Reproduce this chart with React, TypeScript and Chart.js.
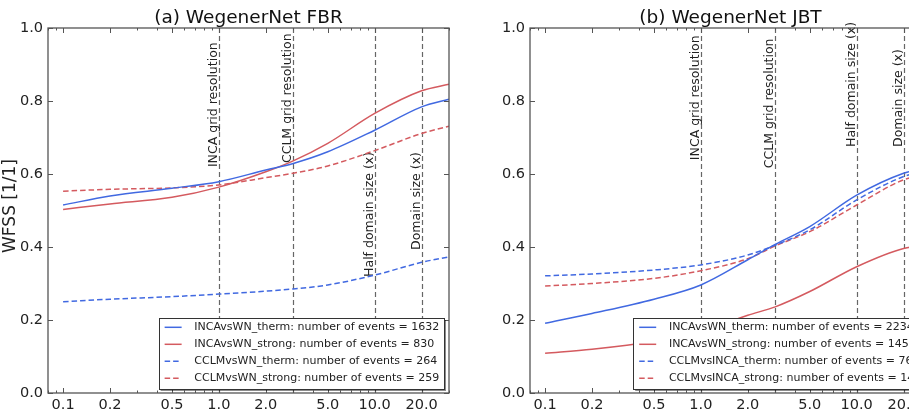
import React, { useEffect, useRef } from "react";
import { Chart, registerables } from "chart.js";

Chart.register(...registerables);

// Spatial scale (x) at which each skill score was evaluated
const distances = [0.1, 0.2, 0.5, 1, 2, 3, 5, 10, 20, 30];

// Axis ticks
const xTickValues = [0.1, 0.2, 0.5, 1, 2, 5, 10, 20];
const xTickLabels = ["0.1", "0.2", "0.5", "1.0", "2.0", "5.0", "10.0", "20.0"];
const yTickValues = [0, 0.2, 0.4, 0.6, 0.8, 1.0];

// Reference scales marked with dashed vertical lines
const refDistances = [1, 3, 10, 20];
const refLabels = [
  "INCA grid resolution",
  "CCLM grid resolution",
  "Half domain size (x)",
  "Domain size (x)",
];

// (a) WegenerNet FBR
const fbrIncaTherm = [0.515, 0.54, 0.561, 0.579, 0.611, 0.629, 0.661, 0.72, 0.784, 0.805];
const fbrIncaStrong = [0.503, 0.518, 0.536, 0.564, 0.606, 0.636, 0.684, 0.766, 0.828, 0.846];
const fbrCclmTherm = [0.25, 0.257, 0.264, 0.271, 0.279, 0.285, 0.296, 0.323, 0.358, 0.373];
const fbrCclmStrong = [0.553, 0.558, 0.562, 0.57, 0.59, 0.602, 0.622, 0.664, 0.711, 0.731];
const fbrLegend = [
  "INCAvsWN_therm: number of events = 1632",
  "INCAvsWN_strong: number of events = 830",
  "CCLMvsWN_therm: number of events = 264",
  "CCLMvsWN_strong: number of events = 259",
];
const fbrRefLabelBase = [0.619, 0.63, 0.318, 0.392];

// (b) WegenerNet JBT
const jbtIncaTherm = [0.191, 0.218, 0.257, 0.296, 0.365, 0.407, 0.456, 0.542, 0.602, 0.62];
const jbtIncaStrong = [0.109, 0.12, 0.142, 0.168, 0.213, 0.236, 0.278, 0.346, 0.396, 0.405];
const jbtCclmTherm = [0.321, 0.326, 0.337, 0.351, 0.378, 0.405, 0.447, 0.529, 0.593, 0.612];
const jbtCclmStrong = [0.293, 0.3, 0.314, 0.335, 0.368, 0.403, 0.442, 0.515, 0.584, 0.6];
const jbtLegend = [
  "INCAvsWN_therm: number of events = 2234",
  "INCAvsWN_strong: number of events = 1453",
  "CCLMvsINCA_therm: number of events = 76",
  "CCLMvsINCA_strong: number of events = 142",
];
const jbtRefLabelBase = [0.638, 0.616, 0.674, 0.674];

const BLUE = "#4169e1";
const RED = "#d45a5f";
const FONT = '"DejaVu Sans", sans-serif';
const DASH = [5.5, 3];

type PanelProps = {
  left: number;
  title: string;
  series: number[][];
  legend: string[];
  refLabelBase: number[];
  yTitle?: string;
};

const seriesStyles = [
  { color: BLUE, dash: [] as number[] },
  { color: RED, dash: [] as number[] },
  { color: BLUE, dash: DASH },
  { color: RED, dash: DASH },
];

function makeDecor(p: PanelProps) {
  return {
    id: "panelDecor",
    beforeDatasetsDraw(chart: any) {
      const { ctx, chartArea: a, scales } = chart;
      const x = scales.x;
      const y = scales.y;
      ctx.save();
      ctx.strokeStyle = "#666";
      ctx.lineWidth = 1.2;
      ctx.setLineDash([5, 3]);
      refDistances.forEach((d) => {
        const px = Math.round(x.getPixelForValue(d)) + 0.5;
        ctx.beginPath();
        ctx.moveTo(px, a.top);
        ctx.lineTo(px, a.bottom);
        ctx.stroke();
      });
      ctx.setLineDash([]);
      ctx.fillStyle = "#222";
      ctx.font = `12.5px ${FONT}`;
      ctx.textAlign = "left";
      ctx.textBaseline = "alphabetic";
      refDistances.forEach((d, i) => {
        const px = x.getPixelForValue(d) - 2;
        const py = y.getPixelForValue(p.refLabelBase[i]);
        ctx.save();
        ctx.translate(px, py);
        ctx.rotate(-Math.PI / 2);
        ctx.fillText(refLabels[i], 0, 0);
        ctx.restore();
      });
      ctx.restore();
    },
    afterDatasetsDraw(chart: any) {
      const { ctx, chartArea: a, scales } = chart;
      const x = scales.x;
      const y = scales.y;
      ctx.save();
      // inward ticks on all four sides
      ctx.strokeStyle = "#555";
      ctx.lineWidth = 1;
      const minors: number[] = [];
      [0.01, 0.1, 1, 10].forEach((dec) => {
        for (let k = 1; k <= 9; k++) {
          const v = k * dec;
          if (v >= x.min && v <= x.max) minors.push(v);
        }
      });
      const vtick = (v: number, len: number) => {
        const px = Math.round(x.getPixelForValue(v)) + 0.5;
        ctx.beginPath();
        ctx.moveTo(px, a.bottom);
        ctx.lineTo(px, a.bottom - len);
        ctx.moveTo(px, a.top);
        ctx.lineTo(px, a.top + len);
        ctx.stroke();
      };
      minors.forEach((v) => vtick(v, 2.5));
      xTickValues.forEach((v) => vtick(v, 5));
      yTickValues.forEach((v) => {
        const py = Math.round(y.getPixelForValue(v)) + 0.5;
        ctx.beginPath();
        ctx.moveTo(a.left, py);
        ctx.lineTo(a.left + 5, py);
        ctx.moveTo(a.right, py);
        ctx.lineTo(a.right - 5, py);
        ctx.stroke();
      });
      // frame
      ctx.strokeStyle = "#555";
      ctx.lineWidth = 1.3;
      ctx.strokeRect(a.left, a.top, a.right - a.left, a.bottom - a.top);

      // legend, lower right
      ctx.font = `11px ${FONT}`;
      const textW = Math.max(...p.legend.map((t) => ctx.measureText(t).width));
      const boxW = 6 + 17 + 12.7 + textW + 4.7;
      const boxH = 71;
      const bx = a.right - 5 - boxW;
      const by = a.bottom - 4 - boxH;
      ctx.fillStyle = "rgba(0,0,0,0.45)";
      ctx.fillRect(bx + 2, by + 2, boxW, boxH);
      ctx.fillStyle = "#fff";
      ctx.fillRect(bx, by, boxW, boxH);
      ctx.strokeStyle = "#333";
      ctx.lineWidth = 1;
      ctx.strokeRect(Math.round(bx) + 0.5, Math.round(by) + 0.5, Math.round(boxW), boxH);
      p.legend.forEach((t, i) => {
        const ry = by + 9.3 + i * 17;
        const st = seriesStyles[i];
        ctx.strokeStyle = st.color;
        ctx.lineWidth = 1.5;
        ctx.setLineDash(st.dash);
        ctx.beginPath();
        ctx.moveTo(bx + 6, ry);
        ctx.lineTo(bx + 23, ry);
        ctx.stroke();
        ctx.setLineDash([]);
        ctx.fillStyle = "#222";
        ctx.textAlign = "left";
        ctx.textBaseline = "middle";
        ctx.fillText(t, bx + 6 + 17 + 12.7, ry);
      });
      ctx.restore();
    },
    afterDraw(chart: any) {
      const { ctx, chartArea: a } = chart;
      ctx.save();
      ctx.fillStyle = "#111";
      ctx.font = `18.5px ${FONT}`;
      ctx.textAlign = "center";
      ctx.textBaseline = "alphabetic";
      ctx.fillText(p.title, (a.left + a.right) / 2, 23);
      if (p.yTitle) {
        ctx.fillStyle = "#222";
        ctx.font = `17px ${FONT}`;
        ctx.translate(11, 206);
        ctx.rotate(-Math.PI / 2);
        ctx.textBaseline = "middle";
        ctx.fillText(p.yTitle, 0, 0);
      }
      ctx.restore();
    },
  };
}

function Panel(p: PanelProps) {
  const ref = useRef<HTMLCanvasElement | null>(null);
  useEffect(() => {
    if (!ref.current) return;
    const chart = new Chart(ref.current, {
      type: "line",
      data: {
        datasets: p.series.map((vals, i) => ({
          data: distances.map((d, j) => ({ x: d, y: vals[j] })),
          borderColor: seriesStyles[i].color,
          borderDash: seriesStyles[i].dash,
          borderWidth: 1.5,
          pointRadius: 0,
          fill: false,
          cubicInterpolationMode: "monotone" as const,
        })),
      },
      options: {
        animation: false,
        responsive: false,
        maintainAspectRatio: false,
        events: [],
        layout: { padding: { top: 28, right: 21, left: 0, bottom: 0 } },
        scales: {
          x: {
            type: "logarithmic",
            min: 0.08,
            max: 30,
            grid: { display: false, drawTicks: false },
            border: { display: false },
            afterBuildTicks: (s: any) => {
              s.ticks = xTickValues.map((v) => ({ value: v }));
            },
            afterFit: (s: any) => {
              s.height = 26;
            },
            ticks: {
              autoSkip: false,
              maxRotation: 0,
              minRotation: 0,
              padding: 4,
              color: "#222",
              font: { family: FONT, size: 14.5 },
              callback: (v: any) => {
                const idx = xTickValues.findIndex((t) => Math.abs(t - Number(v)) < 1e-9);
                return idx >= 0 ? xTickLabels[idx] : "";
              },
            },
          },
          y: {
            type: "linear",
            min: 0,
            max: 1,
            grid: { display: false, drawTicks: false },
            border: { display: false },
            afterBuildTicks: (s: any) => {
              s.ticks = yTickValues.map((v) => ({ value: v }));
            },
            afterFit: (s: any) => {
              s.width = 48;
            },
            ticks: {
              padding: 5,
              color: "#222",
              font: { family: FONT, size: 14.5 },
              callback: (v: any) => Number(v).toFixed(1),
            },
          },
        },
        plugins: {
          legend: { display: false },
          tooltip: { enabled: false },
          title: { display: false },
        },
      },
      plugins: [makeDecor(p)],
    } as any);
    return () => chart.destroy();
  }, []);
  return (
    <canvas
      ref={ref}
      width={470}
      height={419}
      style={{ position: "absolute", left: p.left, top: 0, width: 470, height: 419 }}
    />
  );
}

export default function App() {
  return (
    <div
      style={{
        position: "fixed",
        left: 0,
        top: 0,
        width: 909,
        height: 419,
        overflow: "hidden",
        background: "#fff",
      }}
    >
      <Panel
        left={0}
        title="(a) WegenerNet FBR"
        series={[fbrIncaTherm, fbrIncaStrong, fbrCclmTherm, fbrCclmStrong]}
        legend={fbrLegend}
        refLabelBase={fbrRefLabelBase}
        yTitle="WFSS [1/1]"
      />
      <Panel
        left={482}
        title="(b) WegenerNet JBT"
        series={[jbtIncaTherm, jbtIncaStrong, jbtCclmTherm, jbtCclmStrong]}
        legend={jbtLegend}
        refLabelBase={jbtRefLabelBase}
      />
    </div>
  );
}
